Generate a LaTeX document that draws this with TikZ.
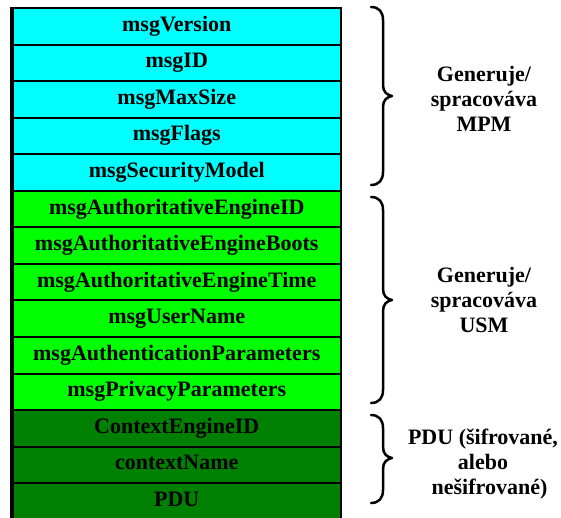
\documentclass[tikz,border=0pt]{standalone}
\usepackage{fontspec}
\setmainfont{Liberation Serif}
\definecolor{mpmcol}{HTML}{00FFFF}
\definecolor{usmcol}{HTML}{00FF00}
\definecolor{pducol}{HTML}{008000}
\begin{document}
\begin{tikzpicture}[x=1pt,y=-1pt,
  cell/.style={draw=black, line width=2pt, rectangle, inner sep=0pt,
    minimum width=328.5pt, minimum height=36.55pt,
    text height=15pt, text depth=5pt,
    font=\fontsize{22}{25}\selectfont\bfseries},
  bracepath/.style={draw=black, line width=2.5pt, line cap=round, line join=round},
  grouplabel/.style={align=center, inner sep=0pt,
    font=\fontsize{22}{25}\selectfont\bfseries}]
\useasboundingbox (0,0) rectangle (561,517);
\clip (0,0) rectangle (561,517);

% field rows of the message header
\foreach \i/\c/\t in {
  1/mpmcol/msgVersion,
  2/mpmcol/msgID,
  3/mpmcol/msgMaxSize,
  4/mpmcol/msgFlags,
  5/mpmcol/msgSecurityModel,
  6/usmcol/msgAuthoritativeEngineID,
  7/usmcol/msgAuthoritativeEngineBoots,
  8/usmcol/msgAuthoritativeEngineTime,
  9/usmcol/msgUserName,
  10/usmcol/msgAuthenticationParameters,
  11/usmcol/msgPrivacyParameters,
  12/pducol/ContextEngineID,
  13/pducol/contextName,
  14/pducol/PDU}
{
  \node[cell, fill=\c] (r\i) at (176.75, {8+36.55*(\i-0.5)}) {\t};
}
% heavier left edge of the table
\draw[line width=3pt] (r1.north west) -- (r14.south west);

% group braces
\foreach \t/\m/\b in {7/96/185, 197/300/403, 415/458/503}
{
  \draw[bracepath] (371,\t) .. controls (379,\t) and (383,\t+5) .. (383,\t+13)
    -- (383,\m-11) .. controls (383,\m-4) and (387,\m-1) .. (392,\m)
    .. controls (387,\m+1) and (383,\m+4) .. (383,\m+11)
    -- (383,\b-13) .. controls (383,\b-5) and (379,\b) .. (371,\b);
}

% group labels
\node[grouplabel] (lmpm) at (484,99) {Generuje/\\spracováva\\MPM};
\node[grouplabel] (lusm) at (484,299.5) {Generuje/\\spracováva\\USM};
\node[grouplabel] (lpdu) at (483,464) {PDU (šifrované,\\alebo\hspace*{13pt}\\\hspace*{13pt}nešifrované)};
\end{tikzpicture}
\end{document}
